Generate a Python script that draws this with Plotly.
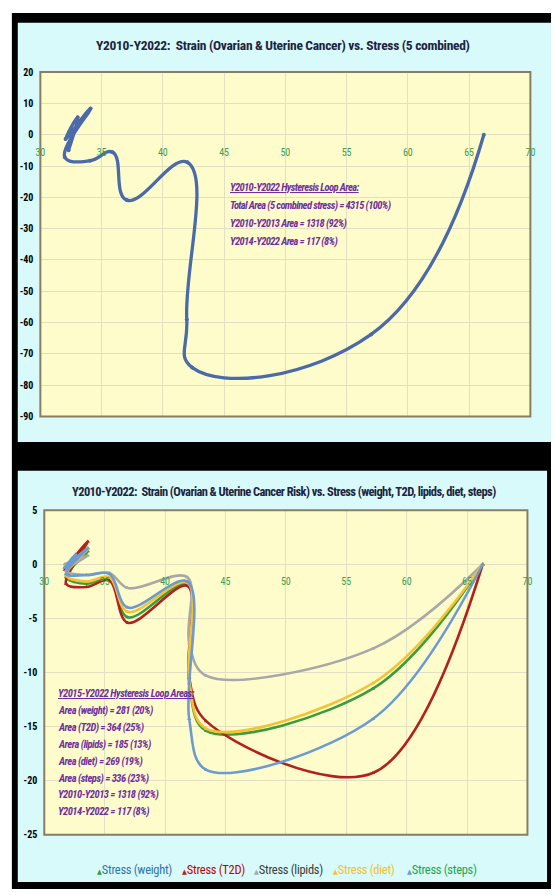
import plotly.graph_objects as go

W, H = 556, 895

# ---- Chart 1: strain vs combined stress -------------------------------
stress_total = [66.2, 57.0, 42.4, 41.95, 42.0, 37.05, 35.9, 34.06, 32.0, 34.1, 32.06, 33.05, 32.3]
strain_total = [0.0, -63.8, -74.4, -59.0, -8.8, -20.9, -5.6, -8.3, -7.2, 8.4, -1.4, 5.6, -5.0]

# ---- Chart 2: strain vs individual stresses ---------------------------
stress_x = [66.3, 57.2, 43.4, 42.0, 41.85, 36.9, 35.4, 33.5, 31.8, 33.6, 31.7, 32.6, 31.9]
strain_weight = [0.0, -11.5, -15.4, -11.0, -1.8, -4.9, -1.3, -1.8, -1.2, 1.2, -0.3, 0.7, -0.7]
strain_t2d = [0.0, -19.3, -14.5, -10.5, -2.0, -5.4, -1.5, -2.1, -1.8, 2.1, -0.5, 0.9, -0.9]
strain_lipids = [0.0, -7.8, -10.3, -7.3, -1.2, -2.2, -0.8, -1.0, -0.6, 0.8, 0.0, 0.4, -0.3]
strain_diet = [0.0, -11.0, -15.2, -10.8, -1.7, -4.4, -1.2, -1.6, -1.0, 1.4, -0.2, 0.6, -0.5]
strain_steps = [0.0, -14.3, -19.0, -14.3, -1.6, -4.0, -0.9, -1.0, -0.9, 1.5, -0.3, 0.9, -0.4]

series_names = ["Stress (weight)", "Stress (T2D)", "Stress (lipids)", "Stress (diet)", "Stress (steps)"]
series_values = [strain_weight, strain_t2d, strain_lipids, strain_diet, strain_steps]

x_ticks = [30, 35, 40, 45, 50, 55, 60, 65, 70]
y_ticks_top = [20, 10, 0, -10, -20, -30, -40, -50, -60, -70, -80, -90]
y_ticks_bottom = [5, 0, -5, -10, -15, -20, -25]

title_top = "Y2010-Y2022:  Strain (Ovarian &amp; Uterine Cancer) vs. Stress (5 combined)"
title_bottom = "Y2010-Y2022:  Strain (Ovarian &amp; Uterine Cancer Risk) vs. Stress (weight, T2D, lipids, diet, steps)"

notes_top = [
    "Y2010-Y2022 Hysteresis Loop Area:",
    "Total Area (5 combined stress) = 4315 (100%)",
    "Y2010-Y2013 Area = 1318 (92%)",
    "Y2014-Y2022 Area = 117 (8%)",
]
notes_bottom = [
    "Y2015-Y2022 Hysteresis Loop Areas:",
    "Area (weight) = 281 (20%)",
    "Area (T2D) = 364 (25%)",
    "Arera (lipids) = 185 (13%)",
    "Area (diet) = 269 (19%)",
    "Area (steps) = 336 (23%)",
    "Y2010-Y2013 = 1318 (92%)",
    "Y2014-Y2022 = 117 (8%)",
]

# ---- styling ----------------------------------------------------------
NARROW = "Roboto Condensed, Liberation Sans Narrow, DejaVu Sans Condensed, Lato, sans-serif"
CYAN = "#d8fafa"
YELLOW = "#fffccc"
GRID = "#e2dfc2"
FRAME = "#8a7d62"
TICK_GREEN = "#3aa04a"
PURPLE = "#7030a0"
TITLE_COLOR = "#1d2440"
TOP_LINE = "#4a6aa9"
line_colors = ["#3a9c3a", "#b3211e", "#a8a8a8", "#f4c232", "#6b9bd1"]
legend_text_colors = ["#2e74b5", "#c00000", "#3b3b3b", "#f2c12e", "#1fa34a"]


def styled(s, spacing=0.0, bold=False, italic=False, underline=False, color=None, size=None):
    css = ["font-stretch:condensed", f"letter-spacing:{spacing}px"]
    if bold:
        css.append("font-weight:bold")
    if italic:
        css.append("font-style:italic")
    if underline:
        css.append("text-decoration:underline")
    if color:
        css.append(f"color:{color}")
    if size:
        css.append(f"font-size:{size}px")
    return f"<span style='{';'.join(css)}'>{s}</span>"


def px_x(v):
    return v / W


def px_y(v):
    return 1 - v / H


fig = go.Figure()

fig.add_trace(go.Scatter(
    x=stress_total, y=strain_total, mode="lines+markers",
    line=dict(color=TOP_LINE, width=3.3, shape="spline", smoothing=1.3),
    marker=dict(color=TOP_LINE, size=4),
    xaxis="x", yaxis="y", showlegend=False,
))

for name, vals, col in zip(series_names, series_values, line_colors):
    fig.add_trace(go.Scatter(
        x=stress_x, y=vals, mode="lines+markers", name=name,
        line=dict(color=col, width=2.6, shape="spline", smoothing=1.0),
        marker=dict(color=col, size=4, symbol="triangle-up"),
        xaxis="x2", yaxis="y2", showlegend=False,
    ))

# panel backgrounds, drawn in order
shapes = [
    dict(type="rect", xref="paper", yref="paper", x0=px_x(7), x1=1, y0=0, y1=px_y(7),
         fillcolor="black", line_width=0, layer="below"),
    dict(type="rect", xref="paper", yref="paper", x0=px_x(13), x1=1, y0=px_y(442), y1=px_y(17),
         fillcolor=CYAN, line_width=0, layer="below"),
    dict(type="rect", xref="paper", yref="paper", x0=px_x(13), x1=px_x(552), y0=px_y(888), y1=px_y(471),
         fillcolor=CYAN, line_width=0, layer="below"),
]
top_dom_x = [px_x(36), px_x(535)]
top_dom_y = [px_y(416), px_y(67)]
bot_dom_x = [px_x(40), px_x(532)]
bot_dom_y = [px_y(840), px_y(511)]
for dx, dy in ((top_dom_x, top_dom_y), (bot_dom_x, bot_dom_y)):
    shapes.append(dict(type="rect", xref="paper", yref="paper", x0=dx[0], x1=dx[1], y0=dy[0], y1=dy[1],
                       fillcolor=YELLOW, line_width=0, layer="below"))
for xr, yr in (("x domain", "y domain"), ("x2 domain", "y2 domain")):
    shapes.append(dict(type="rect", xref=xr, yref=yr, x0=0, x1=1, y0=0, y1=1,
                       line=dict(color=FRAME, width=2), fillcolor="rgba(0,0,0,0)", layer="above"))


def label(text, x, y, size, color, xanchor="center"):
    return dict(text=text, x=px_x(x), y=px_y(y), xref="paper", yref="paper",
                xanchor=xanchor, yanchor="middle", showarrow=False,
                font=dict(family=NARROW, size=size, color=color))


annotations = [
    label(styled(title_top, spacing=-0.3, bold=True), 283, 40, 13.5, TITLE_COLOR),
    label(styled(title_bottom, spacing=-0.6, bold=True), 284, 492, 12.5, TITLE_COLOR),
]
for i, line in enumerate(notes_top):
    annotations.append(label(styled(line, spacing=-0.6, bold=True, italic=True, underline=(i == 0)),
                             227, 184 + 18.3 * i, 10.5, PURPLE, xanchor="left"))
for i, line in enumerate(notes_bottom):
    annotations.append(label(styled(line, spacing=-0.5, bold=True, italic=True, underline=(i == 0)),
                             52, 697 + 17.1 * i, 10.5, PURPLE, xanchor="left"))

# legend row beneath the lower chart
legend_left = [92, 178, 252, 332, 407]
for name, x0, sym_col, txt_col in zip(series_names, legend_left, line_colors, legend_text_colors):
    annotations.append(label(
        styled("▲", color=sym_col, size=7) + styled(name, spacing=-0.3, color=txt_col),
        x0, 875, 12.5, txt_col, xanchor="left"))


def x_axis(domain, pos):
    return dict(domain=domain, range=[30, 70], anchor="free", position=pos,
                tickvals=x_ticks, ticktext=[styled(str(v)) for v in x_ticks],
                showgrid=True, gridcolor=GRID, gridwidth=1, zeroline=False, showline=False,
                ticks="", ticklabelstandoff=10,
                tickfont=dict(family=NARROW, size=10, color=TICK_GREEN))


def y_axis(domain, anchor, rng, vals):
    return dict(domain=domain, range=rng, anchor=anchor,
                tickvals=vals, ticktext=[styled(str(v), bold=True) for v in vals],
                showgrid=True, gridcolor=GRID, gridwidth=1, zeroline=False, showline=False,
                ticks="", ticklabelstandoff=6,
                tickfont=dict(family=NARROW, size=10, color="black"))


fig.update_layout(
    width=W, height=H, margin=dict(l=0, r=0, t=0, b=0),
    paper_bgcolor="white", plot_bgcolor="rgba(0,0,0,0)",
    showlegend=False,
    xaxis=x_axis(top_dom_x, px_y(130.5)),
    yaxis=y_axis(top_dom_y, "x", [-90, 20], y_ticks_top),
    xaxis2=x_axis(bot_dom_x, px_y(566)),
    yaxis2=y_axis(bot_dom_y, "x2", [-25, 5], y_ticks_bottom),
    shapes=shapes, annotations=annotations,
)

fig.write_html("out.html")
